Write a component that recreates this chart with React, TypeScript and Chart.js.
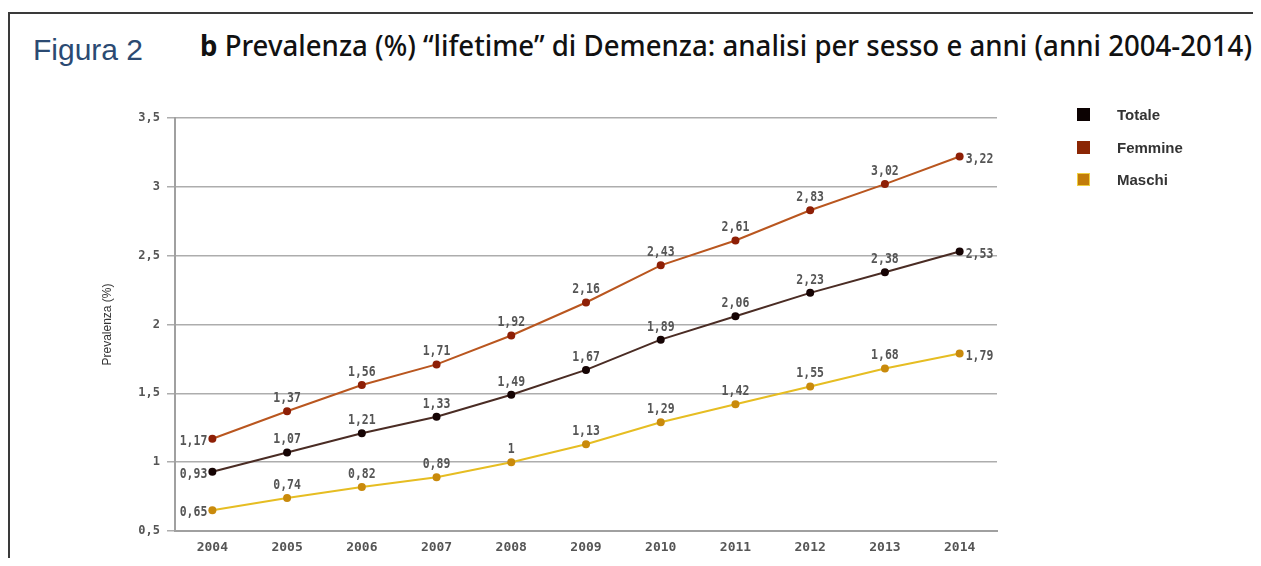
import React, { useEffect, useLayoutEffect, useRef } from "react";
import { Chart, registerables } from "chart.js";

Chart.register(...registerables);

const years = ["2004", "2005", "2006", "2007", "2008", "2009", "2010", "2011", "2012", "2013", "2014"];
const totale = [0.93, 1.07, 1.21, 1.33, 1.49, 1.67, 1.89, 2.06, 2.23, 2.38, 2.53];
const femmine = [1.17, 1.37, 1.56, 1.71, 1.92, 2.16, 2.43, 2.61, 2.83, 3.02, 3.22];
const maschi = [0.65, 0.74, 0.82, 0.89, 1, 1.13, 1.29, 1.42, 1.55, 1.68, 1.79];
const seriesNames = ["Totale", "Femmine", "Maschi"];
const lineColors = ["#4a2c24", "#b9561f", "#e6bd22"];
const pointColors = ["#160404", "#8e1f06", "#c98a0c"];
const legendColors = ["#0c0202", "#8b2604", "#c27c0a"];
const yTicks = [0.5, 1, 1.5, 2, 2.5, 3, 3.5];

const fmt = (v: number) => String(v).replace(".", ",");

const valueLabels = {
  id: "valueLabels",
  afterDatasetsDraw(chart: any) {
    const ctx = chart.ctx;
    chart.data.datasets.forEach((ds: any, i: number) => {
      const meta = chart.getDatasetMeta(i);
      meta.data.forEach((pt: any, j: number) => {
        const txt = fmt(ds.data[j]);
        const last = ds.data.length - 1;
        let x = pt.x;
        let y = pt.y - 13;
        let align = "center";
        if (j === 0) {
          align = "right";
          x = pt.x - 5;
          y = pt.y + 2;
        } else if (j === last) {
          align = "left";
          x = pt.x + 6;
          y = pt.y + 3;
        }
        ctx.save();
        ctx.font = "bold 11.5px 'DejaVu Sans Mono'";
        ctx.fillStyle = "#555";
        ctx.textAlign = align;
        ctx.textBaseline = "middle";
        ctx.translate(x, y);
        ctx.scale(1, 1.3);
        ctx.fillText(txt, 0, 0);
        ctx.restore();
      });
    });
  },
};

export default function App() {
  const canvasRef = useRef<HTMLCanvasElement | null>(null);
  const titleRef = useRef<HTMLDivElement | null>(null);

  useLayoutEffect(() => {
    const el = titleRef.current;
    if (el) {
      el.style.transform = "none";
      const w = el.getBoundingClientRect().width;
      if (w > 0) el.style.transform = `scaleX(${1052 / w})`;
    }
  }, []);

  useEffect(() => {
    if (!canvasRef.current) return;
    const data = [totale, femmine, maschi];
    const chart = new Chart(canvasRef.current, {
      type: "line",
      data: {
        labels: years,
        datasets: data.map((d, i) => ({
          label: seriesNames[i],
          data: d,
          borderColor: lineColors[i],
          backgroundColor: pointColors[i],
          pointBackgroundColor: pointColors[i],
          pointBorderColor: pointColors[i],
          pointRadius: 4,
          pointBorderWidth: 0,
          borderWidth: 2,
          tension: 0,
        })),
      },
      options: {
        animation: false,
        responsive: false,
        maintainAspectRatio: false,
        layout: { padding: { left: 0, right: 264, top: 110, bottom: 0 } },
        plugins: {
          legend: { display: false },
          tooltip: { enabled: false },
          title: { display: false },
        },
        scales: {
          x: {
            offset: true,
            grid: { display: false, drawTicks: false },
            border: { display: true, color: "#a0a0a0", width: 2 },
            ticks: {
              color: "#555",
              font: { family: "'DejaVu Sans Mono'", size: 13, weight: "bold" },
              padding: 9,
              maxRotation: 0,
            },
            afterFit: (s: any) => {
              s.height = 27;
            },
          },
          y: {
            min: 0.5,
            max: 3.5,
            afterBuildTicks: (s: any) => {
              s.ticks = yTicks.map((v) => ({ value: v }));
            },
            grid: { color: "#adadad", lineWidth: 1.5, tickLength: 8 },
            border: { display: true, color: "#a0a0a0", width: 2 },
            ticks: {
              color: "#555",
              font: { family: "'DejaVu Sans Mono'", size: 12, weight: "bold" },
              padding: 7,
              callback: (v: any) => fmt(Number(v)),
            },
            title: {
              display: true,
              text: "Prevalenza (%)",
              color: "#333",
              font: { family: "'Liberation Sans', Arial", size: 12 },
              padding: { top: 92, bottom: 0 },
            },
            afterFit: (s: any) => {
              s.width = 167;
            },
          },
        },
      },
      plugins: [valueLabels],
    });
    return () => chart.destroy();
  }, []);

  return (
    <div style={{ position: "relative", width: 1253, height: 550, overflow: "hidden" }}>
      <div
        style={{
          position: "absolute",
          left: 0,
          top: 4,
          width: 1260,
          height: 560,
          borderTop: "2px solid #3a3a3a",
          borderLeft: "2px solid #3a3a3a",
          boxSizing: "border-box",
        }}
      />
      <div
        style={{
          position: "absolute",
          left: 25,
          top: 27,
          font: "30px 'Liberation Sans', Arial, sans-serif",
          lineHeight: "30px",
          color: "#2b4a72",
          whiteSpace: "nowrap",
        }}
      >
        Figura 2
      </div>
      <div
        ref={titleRef}
        style={{
          position: "absolute",
          left: 192,
          top: 22,
          font: "500 29px 'Noto Sans', sans-serif",
          lineHeight: "29px",
          color: "#111",
          whiteSpace: "nowrap",
          transformOrigin: "0 0",
        }}
      >
        <b>b</b> Prevalenza (%) “lifetime” di Demenza: analisi per sesso e anni (anni 2004-2014)
      </div>
      <canvas
        ref={canvasRef}
        width={1253}
        height={550}
        style={{ position: "absolute", left: 0, top: 0, width: 1253, height: 550 }}
      />
      {seriesNames.map((n, i) => (
        <div
          key={n}
          style={{
            position: "absolute",
            left: 1069,
            top: [106.5, 139, 171.5][i] - 8,
            height: 16,
            display: "flex",
            alignItems: "center",
          }}
        >
          <div
            style={{
              width: 13,
              height: 13,
              background: legendColors[i],
              border: i === 2 ? "1px solid #f0d040" : "none",
              boxSizing: "border-box",
            }}
          />
          <div
            style={{
              marginLeft: 27,
              font: "bold 15px 'Liberation Sans', Arial, sans-serif",
              color: "#333",
            }}
          >
            {n}
          </div>
        </div>
      ))}
    </div>
  );
}
